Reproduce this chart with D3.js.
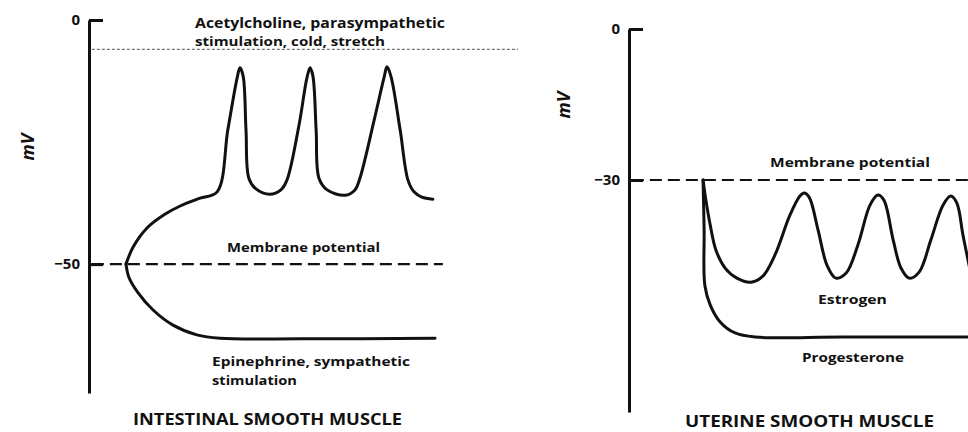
<!DOCTYPE html>
<html>
<head>
<meta charset="utf-8">
<script src="https://cdn.jsdelivr.net/npm/d3@7"></script>
<style>
  html, body { margin: 0; padding: 0; background: #fff; }
  svg { display: block; }
  text { font-family: "Open Sans", "DejaVu Sans", sans-serif; font-weight: 700; fill: #111; }
</style>
</head>
<body>
<svg id="chart" width="968" height="432"></svg>
<script>
// ---------- DATA (time in arbitrary units 0..100, potential in mV) ----------
const intestinalTicks = [0, -50];
const uterineTicks = [0, -30];
const intestinalRest = -50;      // membrane potential, intestinal
const uterineRest = -30;         // membrane potential, uterine
const stimulatedLevel = -6;      // dotted level (acetylcholine etc.)

// Acetylcholine, parasympathetic stimulation, cold, stretch
const acetylcholineCurve = [
  [10.4,-50.0],[12.4,-46.5],[16.3,-42.6],[21.3,-39.8],[25.6,-38.1],[31.2,-36.5],[36.0,-35.2],
  [39.0,-22.5],[41.6,-11.9],[42.4,-9.8],[43.3,-11.5],[44.1,-22.5],[44.9,-32.4],[46.9,-34.6],
  [50.8,-35.7],[53.9,-34.8],[55.6,-32.8],[59.0,-21.5],[61.2,-11.9],[62.1,-9.8],[62.9,-11.5],
  [63.8,-22.5],[64.6,-32.4],[66.9,-34.8],[71.9,-35.9],[74.7,-34.8],[76.1,-32.4],[80.1,-20.5],
  [82.9,-11.7],[83.7,-9.6],[84.8,-11.5],[87.4,-22.5],[89.6,-32.8],[91.3,-35.2],[93.5,-36.3],
  [96.6,-36.7]
];
// Epinephrine, sympathetic stimulation
const epinephrineCurve = [
  [10.4,-50.0],[11.2,-52.7],[13.8,-55.9],[18.0,-59.4],[23.6,-62.5],[30.3,-64.5],[36.8,-65.2],
  [60.0,-65.3],[97.2,-65.2]
];
// Estrogen
const estrogenCurve = [
  [20.8,-30.0],[21.6,-34.0],[22.8,-38.9],[24.4,-43.9],[27.0,-47.5],[30.3,-49.5],[34.3,-50.3],
  [37.6,-49.1],[41.0,-44.9],[45.2,-37.0],[48.0,-33.2],[49.2,-32.6],[50.6,-33.4],[53.1,-39.9],
  [55.6,-46.9],[58.1,-49.5],[61.0,-48.5],[64.3,-42.9],[67.7,-35.0],[69.9,-33.0],[71.6,-34.0],
  [74.2,-41.9],[76.4,-47.5],[78.7,-49.5],[81.5,-48.3],[84.8,-41.9],[88.2,-35.0],[90.4,-33.2],
  [92.1,-34.6],[93.8,-40.9],[95.8,-47.9]
];
// Progesterone
const progesteroneCurve = [
  [20.8,-30.0],[21.1,-39.9],[21.3,-50.9],[22.8,-54.8],[25.6,-58.2],[29.8,-60.4],[35.4,-61.2],
  [60.0,-61.2],[100,-61.2]
];

// ---------- DRAWING ----------
const svg = d3.select("#chart");
svg.append("rect").attr("width", 968).attr("height", 432).attr("fill", "#fff");

const xL = d3.scaleLinear().domain([0, 100]).range([89, 445]);
const yL = d3.scaleLinear().domain([0, -76.4]).range([20, 393]);
const xR = d3.scaleLinear().domain([0, 100]).range([629, 985]);
const yR = d3.scaleLinear().domain([0, -76.1]).range([29, 412]);

const curve = d3.curveCatmullRom.alpha(0.5);

function drawAxis(x, y, ticks) {
  const ax = d3.axisLeft(y).tickValues(ticks).tickFormat(d3.format("d"))
    .tickSizeInner(-14).tickSizeOuter(0).tickPadding(9);
  const g = svg.append("g").attr("transform", `translate(${x.range()[0]},0)`).call(ax);
  g.select(".domain").attr("stroke", "#111").attr("stroke-width", 3);
  g.selectAll(".tick line").attr("stroke", "#111").attr("stroke-width", 3);
  g.selectAll(".tick text").attr("font-size", 15).attr("font-family", "Open Sans, sans-serif")
    .attr("font-weight", 700).attr("fill", "#111");
  return g;
}

function drawCurve(x, y, data) {
  const line = d3.line().x(d => x(d[0])).y(d => y(d[1])).curve(curve);
  svg.append("path").datum(data).attr("d", line).attr("fill", "none")
    .attr("stroke", "#111").attr("stroke-width", 3)
    .attr("stroke-linejoin", "round").attr("stroke-linecap", "round");
}

function hline(x, y, v, t0, t1, dash, width, color) {
  svg.append("line").attr("x1", x(t0)).attr("x2", x(t1)).attr("y1", y(v)).attr("y2", y(v))
    .attr("stroke", color).attr("stroke-width", width).attr("stroke-dasharray", dash);
}

function label(txt, x, y, size, len, anchor) {
  const t = svg.append("text").attr("x", x).attr("y", y).attr("font-size", size).text(txt);
  if (anchor) t.attr("text-anchor", anchor);
  if (len) t.attr("textLength", len).attr("lengthAdjust", "spacingAndGlyphs");
  return t;
}

// ---- Left panel: intestinal smooth muscle ----
hline(xL, yL, stimulatedLevel, 0.8, 120.5, "3,2", 1.2, "#777");
hline(xL, yL, intestinalRest, 0.8, 99.4, "12,6", 2.2, "#111");
drawAxis(xL, yL, intestinalTicks);
drawCurve(xL, yL, acetylcholineCurve);
drawCurve(xL, yL, epinephrineCurve);

label("Acetylcholine, parasympathetic", 195, 28, 14, 250);
label("stimulation, cold, stretch", 195, 46, 13, 190);
label("Membrane potential", 227, 252, 13, 153);
label("Epinephrine, sympathetic", 212, 366, 13, 198);
label("stimulation", 212, 385, 13, 85);
label("INTESTINAL SMOOTH MUSCLE", 133, 425, 16, 269);
svg.append("text").attr("transform", "translate(34,147) rotate(-90)")
  .attr("text-anchor", "middle").attr("font-size", 18).attr("font-style", "italic")
  .attr("font-weight", 400).text("mV");

// ---- Right panel: uterine smooth muscle ----
hline(xR, yR, uterineRest, 0.8, 100, "12,6", 2.2, "#111");
drawAxis(xR, yR, uterineTicks);
drawCurve(xR, yR, estrogenCurve);
drawCurve(xR, yR, progesteroneCurve);

label("Membrane potential", 770, 167, 13, 160);
label("Estrogen", 818, 304, 13, 69);
label("Progesterone", 802, 362, 13, 102);
label("UTERINE SMOOTH MUSCLE", 685, 427, 16, 249);
svg.append("text").attr("transform", "translate(570,105) rotate(-90)")
  .attr("text-anchor", "middle").attr("font-size", 18).attr("font-style", "italic")
  .attr("font-weight", 400).text("mV");
</script>
</body>
</html>
